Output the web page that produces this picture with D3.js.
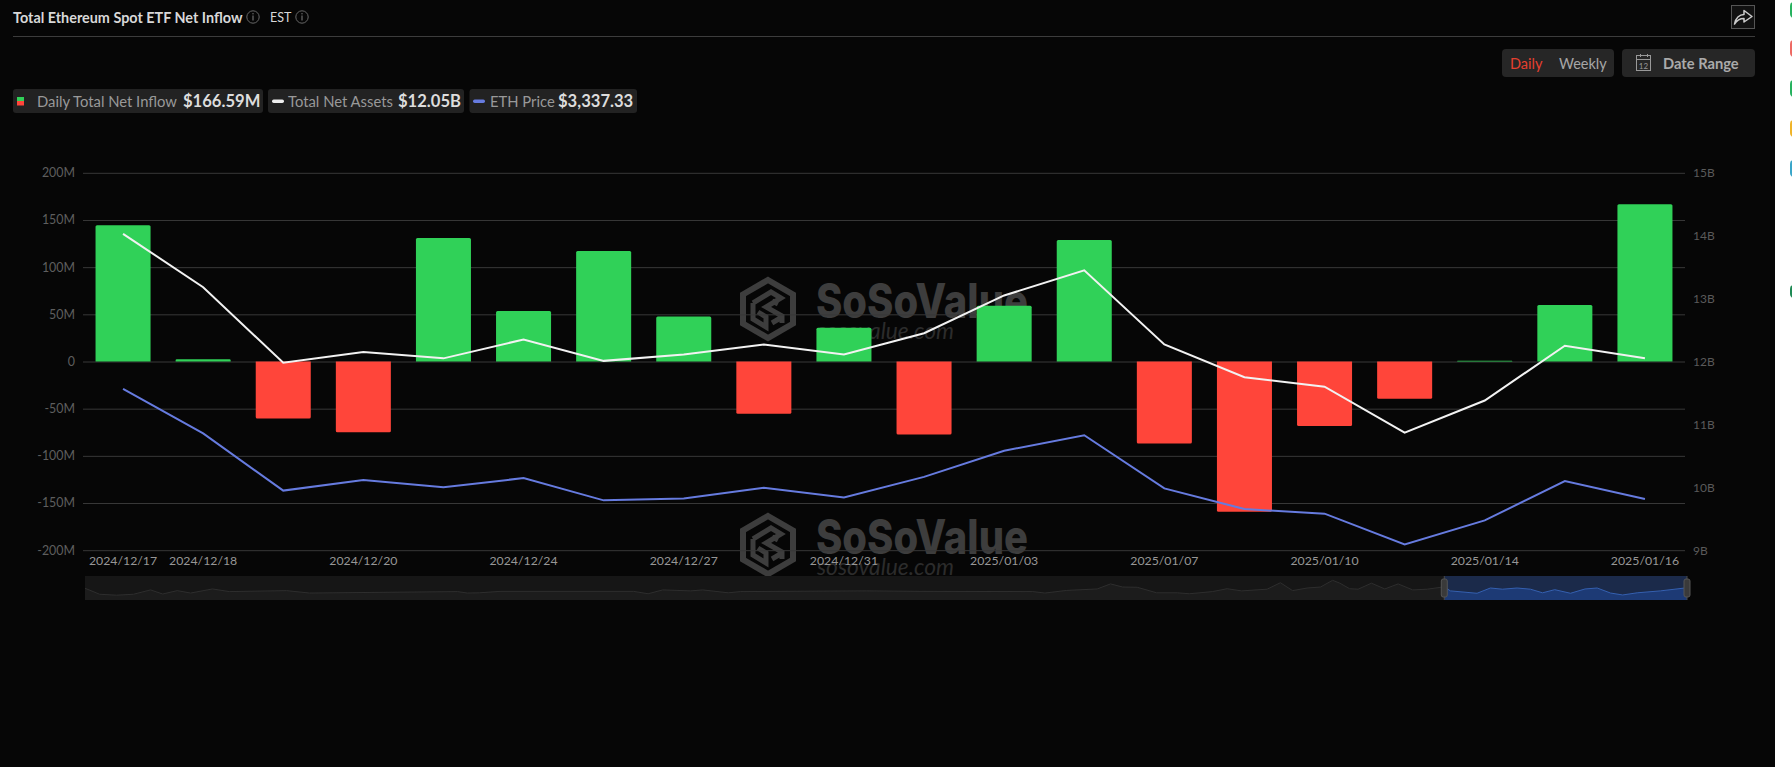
<!DOCTYPE html>
<html><head><meta charset="utf-8">
<script src="https://cdn.jsdelivr.net/npm/d3@7"></script>
<style>
html,body{margin:0;padding:0;background:#fff;overflow:hidden}
svg{display:block;font-family:Lato,sans-serif}
</style></head><body><svg id="c" width="1792" height="767"></svg>
<script>
const dates=["2024/12/17","2024/12/18","2024/12/19","2024/12/20","2024/12/23","2024/12/24","2024/12/26","2024/12/27","2024/12/30","2024/12/31","2025/01/02","2025/01/03","2025/01/06","2025/01/07","2025/01/08","2025/01/10","2025/01/13","2025/01/14","2025/01/15","2025/01/16"];
const dateTicks=["2024/12/17","2024/12/18","2024/12/20","2024/12/24","2024/12/27","2024/12/31","2025/01/03","2025/01/07","2025/01/10","2025/01/14","2025/01/16"];
const netInflow=[144.3,2.3,-60.5,-75.1,130.8,53.6,117.2,47.8,-55.4,35.9,-77.5,59.2,128.7,-86.8,-159.2,-68.4,-39.4,0.8,60.0,166.59];
const netAssets=[14.03,13.18,11.98,12.15,12.05,12.35,12.01,12.11,12.27,12.11,12.45,13.05,13.45,12.27,11.75,11.6,10.87,11.38,12.25,12.05];
const ethPrice=[3892,3668,3380,3434,3397,3443,3331,3340,3394,3345,3449,3581,3659,3391,3287,3264,3109,3230,3428,3337.33];
const leftTicks=[200,150,100,50,0,-50,-100,-150,-200];
const rightTicks=[15,14,13,12,11,10,9];
const overviewDay=[0,1.2,2.6,4,5.4,6.4,7.6,8.7,10.5,11.9,16.6,18.5,30.7,31.5,32.5,34.2,45.2,46.4,47.6,49.9,50.9,53,54,64.4,68.8,78.1,79.1,80.9,83.4,84.5,85.5,86.7,88.3,90,91,92.9,94.1,95.3,97.4,98.5,99.5,100.7,101.8,102.8,103.4,104.2,104.9,106,107.1,108.2,109.4,110.6,112,112.5,114.7,115.8,116.8,118,119.1,120.1,121.1,122.4,123.6,124.6,125.7,126.7,127.9,129.8,132];
const overviewLevel=[49,24,20,24,42,25,39,29,46,35,39,29,35,29,30,36,36,26,42,38,42,30,35,38,36,35,29,40,46,67,54,53,30,30,26,35,47,38,45,72,39,50,54,82,70,47,45,70,46,67,42,45,55,38,28,50,45,50,45,30,43,28,46,50,29,21,30,38,51];
const legendItems=[{label:"Daily Total Net Inflow",value:"$166.59M"},{label:"Total Net Assets",value:"$12.05B"},{label:"ETH Price",value:"$3,337.33"}];

const svg=d3.select("#c");
const W=1792,H=767;
const BG="#060606",GREEN="#30D158",RED="#FF453A",BLUE="#667BDF";
svg.append("rect").attr("width",1775).attr("height",H).attr("fill",BG);
[[2,16,"#27b25f"],[40,17,"#ee6a64"],[80,17,"#27b25f"],[120,17,"#f0b429"],[160,17,"#3aa6c9"],[285,13,"#1f8a55"]].forEach(b=>
  svg.append("rect").attr("x",1790).attr("y",b[0]).attr("width",8).attr("height",b[1]).attr("rx",4).attr("fill",b[2]));

const t=(x,y,s,o={})=>svg.append("text").attr("x",x).attr("y",y).text(s)
  .attr("fill",o.fill||"#999").attr("font-size",o.size||14).attr("font-weight",o.weight||400)
  .attr("text-anchor",o.anchor||"start").attr("dominant-baseline","central");
const info=(x,y)=>{const g=svg.append("g").attr("transform",`translate(${x},${y})`);
  g.append("circle").attr("r",6.2).attr("fill","none").attr("stroke","#666");
  g.append("line").attr("y1",-1.5).attr("y2",3.5).attr("stroke","#777").attr("stroke-width",1.1);
  g.append("circle").attr("cy",-3.3).attr("r",.7).attr("fill","#777");};
t(13,17,"Total Ethereum Spot ETF Net Inflow",{fill:"#d8d8d8",size:14.4,weight:700});
info(253,17);
t(270,17,"EST",{fill:"#d8d8d8",size:12.5});
info(302,17);
svg.append("line").attr("x1",13).attr("x2",1755).attr("y1",36.5).attr("y2",36.5).attr("stroke","#3c3c3c");

// share
svg.append("rect").attr("x",1731.5).attr("y",5.5).attr("width",23).attr("height",23).attr("fill","#111").attr("stroke","#555");
svg.append("path").attr("d","M1734.5 24 C1735.5 18 1739.5 14.5 1744 14.5 L1744 10.5 L1752 16.5 L1744 22 L1744 18.5 C1740.5 18.5 1737 20 1734.5 24 Z")
  .attr("fill","none").attr("stroke","#ccc").attr("stroke-width",1.5).attr("stroke-linejoin","round");
// controls
svg.append("rect").attr("x",1502).attr("y",49).attr("width",112).attr("height",28).attr("rx",4).attr("fill","#262626");
svg.append("rect").attr("x",1622).attr("y",49).attr("width",133).attr("height",28).attr("rx",4).attr("fill","#262626");
t(1510,63,"Daily",{fill:"#E5402F",size:14.5});
t(1559,63,"Weekly",{fill:"#a6a6a6",size:14.5});
t(1663,63,"Date Range",{fill:"#aaa",size:14.7,weight:700});
svg.append("rect").attr("x",1636.5).attr("y",55.5).attr("width",14).attr("height",15).attr("fill","none").attr("stroke","#999");
svg.append("line").attr("x1",1637).attr("x2",1651).attr("y1",59.5).attr("y2",59.5).attr("stroke","#999");
[1640.5,1647.5].forEach(x=>svg.append("line").attr("x1",x).attr("x2",x).attr("y1",54).attr("y2",57).attr("stroke","#999"));
t(1643.5,65.5,"12",{fill:"#999",size:8,anchor:"middle"});

// legend
const chips=[[13,250],[268,196],[469.5,167.5]];
chips.forEach(c=>svg.append("rect").attr("x",c[0]).attr("y",89).attr("width",c[1]).attr("height",24).attr("rx",3).attr("fill","#222"));
svg.append("rect").attr("x",17).attr("y",97).attr("width",7).attr("height",4).attr("fill",GREEN);
svg.append("rect").attr("x",17).attr("y",101).attr("width",7).attr("height",4.5).attr("fill",RED);
svg.append("rect").attr("x",272).attr("y",99.5).attr("width",12).attr("height",3.5).attr("rx",1.7).attr("fill","#eee");
svg.append("rect").attr("x",473).attr("y",99.5).attr("width",12).attr("height",3.5).attr("rx",1.7).attr("fill",BLUE);
const lx=[[37,183],[288,398],[490,558]];
legendItems.forEach((d,i)=>{
  t(lx[i][0],101,d.label,{fill:"#999",size:14.8});
  t(lx[i][1],101,d.value,{fill:"#ddd",size:16.6,weight:700});
});

// watermark
function watermark(dy){
  const g=svg.append("g").attr("transform",`translate(0,${dy})`);
  const l=g.append("g").attr("transform","translate(768,309)").attr("fill","none").attr("stroke","#3d3d3d").attr("stroke-width",6).attr("stroke-linejoin","miter");
  l.append("path").attr("d","M0 -29 L25 -14.5 L25 14.5 L0 29 L-25 14.5 L-25 -14.5 Z");
  l.append("path").attr("stroke-width",5).attr("d","M-15 -6 L3 -17 L13 -11 L-2 -2 L14 7 L14 14 M-15 -6 L-15 10 L-2 18 L-2 8 L-10 3 M4 -8 L10 -5 M4 14 L14 8");
  g.append("text").attr("x",816).attr("y",318).text("SoSoValue").attr("fill","#3d3d3d").attr("font-family","Inter,Roboto,sans-serif")
   .attr("font-weight",800).attr("font-size",48).attr("textLength",212).attr("lengthAdjust","spacingAndGlyphs");
  g.append("text").attr("x",817).attr("y",339).text("sosovalue.com").attr("fill","#2c2c2c").attr("font-style","italic")
   .attr("font-size",24).attr("textLength",137).attr("lengthAdjust","spacingAndGlyphs");
}
watermark(0);watermark(236);

// scales
const x=d3.scaleBand().domain(dates).range([83,1685]).paddingInner(.313).paddingOuter(.1565);
const yL=d3.scaleLinear().domain([-200,200]).range([550.2,172.8]);
const yR=d3.scaleLinear().domain([9,15]).range([550.2,172.8]);
const yP=d3.scaleLinear().domain([3080,4980]).range([550.2,172.8]);
const cx=d=>x(d)+x.bandwidth()/2;

// axes
const gl=svg.append("g").attr("transform","translate(83,0)").call(d3.axisLeft(yL).tickValues(leftTicks).tickSize(-1602).tickPadding(8).tickFormat(d=>d===0?"0":d+"M"));
gl.select(".domain").remove();
gl.selectAll("line").attr("stroke","#383838");
gl.selectAll("text").attr("fill","#5e5e5e").attr("font-size",12.4).attr("font-family","Lato,sans-serif");
const gr=svg.append("g").attr("transform","translate(1685,0)").call(d3.axisRight(yR).tickValues(rightTicks).tickSize(0).tickPadding(8).tickFormat(d=>d+"B"));
gr.select(".domain").remove();
gr.selectAll("text").attr("fill","#5a5a5a").attr("font-size",12).attr("font-family","Lato,sans-serif");

// bars
const r=1.5;
svg.append("g").selectAll("path").data(dates).join("path")
 .attr("fill",(d,i)=>netInflow[i]>=0?GREEN:RED)
 .attr("d",(d,i)=>{
   const v=netInflow[i],a=x(d),b=a+x.bandwidth(),y0=yL(0),y1=yL(v);
   const rr=Math.min(r,Math.abs(y1-y0)/2),s=v>=0?1:-1;
   return `M${a} ${y0}L${a} ${y1+s*rr}Q${a} ${y1} ${a+rr} ${y1}L${b-rr} ${y1}Q${b} ${y1} ${b} ${y1+s*rr}L${b} ${y0}Z`;
 });
// lines
const lineOf=(arr,sc)=>d3.line().x((d,i)=>cx(dates[i])).y(d=>sc(d))(arr);
svg.append("path").attr("d",lineOf(ethPrice,yP)).attr("fill","none").attr("stroke",BLUE).attr("stroke-width",2);
svg.append("path").attr("d",lineOf(netAssets,yR)).attr("fill","none").attr("stroke","#f2f2f2").attr("stroke-width",2);

// x axis
const gx=svg.append("g").attr("transform","translate(0,550.2)").call(d3.axisBottom(x).tickValues(dateTicks).tickSize(0).tickPadding(6));
gx.select(".domain").remove();
gx.selectAll("text").attr("fill","#969696").attr("font-size",12.3).attr("font-family","Lato,sans-serif");

// overview slider
const ox=d3.scaleLinear().domain([0,132]).range([85,1687]);
const oy=d3.scaleLinear().domain([0,100]).range([600,576]);
const ovTop=576,ovH=24,startDay=112;
const cl=svg.append("defs");
cl.append("clipPath").attr("id","sel").append("rect").attr("x",ox(startDay)).attr("y",ovTop).attr("width",ox(132)-ox(startDay)).attr("height",ovH);
cl.append("clipPath").attr("id","uns").append("rect").attr("x",ox(0)).attr("y",ovTop).attr("width",ox(startDay)-ox(0)).attr("height",ovH);
const ovData=overviewDay.map((d,i)=>[d,overviewLevel[i]]);
const ovArea=d3.area().x(d=>ox(d[0])).y0(oy(0)).y1(d=>oy(d[1]));
const ovLine=d3.line().x(d=>ox(d[0])).y(d=>oy(d[1]));
svg.append("rect").attr("x",ox(0)).attr("y",ovTop).attr("width",ox(132)-ox(0)).attr("height",ovH).attr("fill","#161616");
svg.append("path").attr("clip-path","url(#uns)").attr("d",ovArea(ovData)).attr("fill","#1c1c1c");
svg.append("path").attr("clip-path","url(#uns)").attr("d",ovLine(ovData)).attr("fill","none").attr("stroke","#2e2e2e").attr("stroke-width",1);
svg.append("rect").attr("x",ox(startDay)).attr("y",ovTop).attr("width",ox(132)-ox(startDay)).attr("height",ovH).attr("fill","#1b2a4a");
svg.append("path").attr("clip-path","url(#sel)").attr("d",ovArea(ovData)).attr("fill","#1d3a75");
svg.append("path").attr("clip-path","url(#sel)").attr("d",ovLine(ovData)).attr("fill","none").attr("stroke","#3560b0").attr("stroke-width",1);
[startDay,132].forEach(d=>{
  svg.append("line").attr("x1",ox(d)).attr("x2",ox(d)).attr("y1",ovTop).attr("y2",ovTop+ovH).attr("stroke","#4a4a4a");
  svg.append("rect").attr("x",ox(d)-3).attr("y",ovTop+3).attr("width",6).attr("height",ovH-6).attr("rx",2).attr("fill","#3a3a3a").attr("stroke","#555");
});
</script></body></html>
